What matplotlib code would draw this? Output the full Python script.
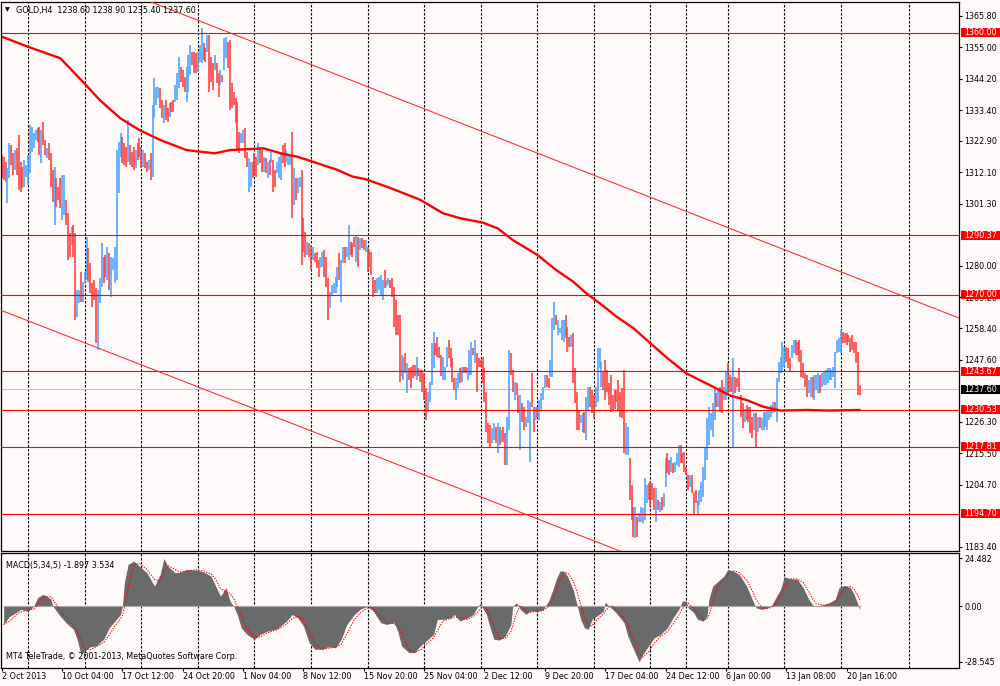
import numpy as np
import matplotlib.pyplot as plt
from matplotlib.patches import Rectangle
from matplotlib.transforms import blended_transform_factory

plt.rcParams['font.family'] = ['DejaVu Sans']

# GOLD H4 bars, 2 Oct 2013 .. 21 Jan 2014 (one value per bar)
bar_high = [
    # 2 Oct - 9 Oct
    1318.0, 1317.5, 1315.7, 1313.4, 1322.0, 1321.5, 1318.6, 1319.8, 1320.3, 1324.9,
    1315.7, 1314.0, 1316.3, 1314.6, 1318.0, 1328.3, 1327.8, 1325.5, 1326.6, 1327.2,
    1327.8, 1326.6, 1329.5, 1323.2, 1320.3, 1322.0, 1318.6, 1312.9, 1314.0, 1310.0,
    1307.1, 1310.0, 1311.2, 1311.2, 1302.6, 1298.0, 1291.1, 1293.4, 1294.0, 1291.1,
    1271.6, 1271.6, 1277.9, 1274.5, 1277.9, 1290.0, 1286.0, 1280.8, 1273.9, 1275.1,
    1272.2, 1271.6, 1275.6, 1287.7, 1283.1, 1283.7, 1286.5, 1284.2, 1283.1, 1282.5,
    1286.5, 1319.8, 1322.6,
    # 17 Oct - 29 Oct
    1325.5, 1324.3, 1322.0, 1320.9, 1330.1, 1321.5, 1319.2, 1320.9, 1319.8, 1322.0,
    1323.8, 1320.9, 1319.8, 1318.6, 1315.7, 1316.3, 1318.6, 1335.2, 1344.4, 1341.5,
    1341.5, 1340.9, 1336.9, 1335.2, 1336.9, 1334.1, 1335.8, 1336.4, 1336.9, 1342.1,
    1346.1, 1351.8, 1348.4, 1347.2, 1344.9, 1348.4, 1352.4, 1355.8, 1353.5, 1353.5,
    1353.0, 1353.5, 1355.8, 1361.6, 1356.4, 1354.7, 1359.3, 1359.3, 1351.8, 1349.5,
    1352.4, 1349.5, 1346.1, 1347.2, 1345.5, 1358.1, 1358.7, 1357.0, 1357.6, 1342.7,
    1339.8, 1337.5, 1336.4, 1326.1, 1325.5, 1326.6,
    # 30 Oct - 12 Nov
    1327.2, 1319.2, 1316.9, 1315.7, 1315.7, 1318.6, 1317.5, 1322.1, 1320.9, 1319.8,
    1317.5, 1316.9, 1315.7, 1316.3, 1319.2, 1316.3, 1312.9, 1315.7, 1317.5, 1318.6,
    1321.5, 1322.1, 1319.8, 1318.0, 1318.0, 1326.0, 1313.4, 1310.0, 1310.0, 1310.6,
    1312.9, 1296.3, 1291.7, 1288.2, 1287.7, 1287.1, 1286.5, 1284.2, 1284.8, 1281.9,
    1283.1, 1284.8, 1285.4, 1283.1, 1275.7, 1271.1, 1273.4, 1273.9, 1276.2, 1279.7,
    1284.2, 1281.9, 1286.5, 1286.5, 1286.5, 1294.0, 1288.2, 1287.7, 1290.0, 1290.5,
    1290.0, 1289.4,
    # 18 Nov - 2 Dec
    1289.4, 1288.8, 1288.8, 1286.5, 1285.4, 1284.8, 1276.2, 1275.1, 1275.7, 1276.2,
    1276.8, 1275.1, 1278.5, 1275.1, 1275.7, 1275.1, 1275.7, 1272.8, 1268.2, 1263.0,
    1263.0, 1249.3, 1248.7, 1249.9, 1246.4, 1244.7, 1245.3, 1245.9, 1245.9, 1248.7,
    1244.7, 1244.1, 1244.1, 1243.0, 1237.8, 1236.7, 1240.1, 1253.3, 1257.3, 1253.3,
    1255.6, 1252.2, 1249.3, 1248.7, 1245.3, 1252.2, 1254.4, 1251.6, 1248.2, 1241.3,
    1241.3, 1243.0, 1244.7, 1245.3, 1245.3, 1245.3, 1244.7, 1251.0, 1253.9, 1251.6,
    1254.4, 1249.9, 1248.2, 1247.6,
    # 2 Dec - 16 Dec
    1248.7, 1244.7, 1236.7, 1225.8, 1225.2, 1224.1, 1225.8, 1224.7, 1225.8, 1224.7,
    1223.5, 1224.7, 1222.4, 1228.1, 1251.0, 1249.9, 1244.1, 1240.1, 1239.6, 1235.5,
    1235.5, 1232.7, 1231.5, 1228.1, 1233.8, 1233.2, 1243.0, 1231.5, 1231.5, 1231.5,
    1233.8, 1236.1, 1238.4, 1242.4, 1242.4, 1241.3, 1247.6, 1261.9, 1267.6, 1263.0,
    1261.3, 1258.4, 1261.3, 1261.3, 1263.0, 1259.0, 1255.6, 1256.2, 1256.7, 1244.7,
    1236.7, 1230.4, 1228.7, 1229.2, 1229.8, 1234.9, 1238.4, 1238.4, 1237.3, 1235.5,
    1238.4, 1251.6, 1251.6,
    # 16 Dec - 6 Jan
    1247.0, 1243.6, 1247.6, 1244.1, 1239.6, 1242.4, 1235.5, 1237.3, 1237.3, 1240.7,
    1236.7, 1237.8, 1244.1, 1225.8, 1224.7, 1214.0, 1204.6, 1197.2, 1197.2, 1193.7,
    1194.9, 1197.2, 1196.6, 1206.9, 1204.6, 1205.2, 1205.8, 1205.2, 1203.5, 1203.5,
    1199.5, 1198.9, 1200.6, 1201.8, 1213.8, 1215.5, 1213.2, 1214.4, 1212.1, 1212.6,
    1215.5, 1218.4, 1218.4, 1215.5, 1216.1, 1210.9, 1208.1, 1208.1, 1208.1, 1202.3,
    1202.9, 1199.5, 1202.9, 1205.8, 1210.9, 1217.8, 1227.5, 1231.5, 1229.2, 1232.7,
    1238.4, 1236.1, 1237.3, 1238.4, 1240.7, 1238.4, 1243.6,
    # 6 Jan - 21 Jan
    1246.4, 1242.4, 1241.8, 1248.1, 1241.8, 1241.3, 1244.7, 1235.5, 1232.7, 1230.9,
    1232.1, 1231.5, 1231.5, 1228.1, 1229.2, 1229.2, 1228.1, 1228.1, 1227.5, 1229.8,
    1229.8, 1230.4, 1230.4, 1232.1, 1233.2, 1233.2, 1241.3, 1247.0, 1248.7, 1253.9,
    1252.2, 1252.2, 1251.6, 1248.1, 1252.7, 1254.4, 1254.4, 1253.9, 1254.4, 1251.0,
    1246.4, 1243.0, 1242.4, 1240.7, 1241.8, 1241.8, 1242.4, 1242.4, 1243.0, 1242.4,
    1243.0, 1243.6, 1244.1, 1244.7, 1244.7, 1244.1, 1245.3, 1250.4, 1254.4, 1255.0,
    1258.0, 1257.3, 1256.7, 1256.7, 1256.2, 1255.0, 1256.2, 1253.9, 1253.9, 1250.4,
    1238.9,
]

bar_low = [
    1310.0, 1309.4, 1308.9, 1301.4, 1310.0, 1314.6, 1311.2, 1312.9, 1311.2, 1306.0,
    1305.4, 1306.6, 1307.1, 1310.6, 1307.7, 1311.7, 1319.2, 1320.3, 1323.2, 1322.6,
    1318.0, 1315.2, 1321.5, 1318.0, 1316.9, 1316.3, 1307.1, 1302.0, 1294.0, 1300.3,
    1302.6, 1299.7, 1295.7, 1297.4, 1294.0, 1281.9, 1283.1, 1287.1, 1283.1, 1261.3,
    1262.5, 1267.0, 1267.6, 1267.6, 1273.9, 1275.1, 1274.5, 1270.5, 1265.9, 1268.2,
    1253.3, 1251.0, 1267.0, 1272.8, 1273.9, 1276.2, 1275.1, 1271.6, 1269.3, 1278.5,
    1273.9, 1275.1, 1304.9,
    1317.5, 1315.2, 1314.6, 1314.0, 1315.7, 1314.6, 1314.0, 1312.9, 1313.4, 1316.3,
    1317.5, 1313.4, 1314.0, 1313.4, 1312.3, 1312.9, 1309.4, 1310.6, 1330.6, 1335.2,
    1337.5, 1334.1, 1330.6, 1328.9, 1330.1, 1329.5, 1331.2, 1332.9, 1332.9, 1336.4,
    1336.9, 1340.9, 1343.2, 1341.5, 1339.8, 1336.4, 1339.8, 1345.5, 1349.0, 1346.1,
    1346.1, 1346.7, 1350.1, 1349.5, 1350.7, 1350.1, 1353.5, 1339.8, 1343.2, 1340.4,
    1347.2, 1342.7, 1338.1, 1342.1, 1343.2, 1347.2, 1351.3, 1347.8, 1333.5, 1334.1,
    1335.2, 1328.9, 1319.8, 1318.6, 1322.0, 1322.0,
    1316.9, 1314.0, 1305.4, 1307.1, 1310.0, 1311.2, 1310.6, 1314.6, 1315.2, 1312.3,
    1312.3, 1311.7, 1310.0, 1311.2, 1315.2, 1305.4, 1307.1, 1311.7, 1310.0, 1309.4,
    1315.2, 1314.0, 1315.7, 1314.6, 1314.6, 1296.3, 1300.9, 1302.6, 1304.9, 1307.1,
    1280.2, 1284.8, 1283.1, 1283.7, 1283.1, 1278.5, 1281.9, 1281.4, 1279.1, 1276.2,
    1279.1, 1279.7, 1276.2, 1272.8, 1261.3, 1265.3, 1269.9, 1270.5, 1270.5, 1272.8,
    1275.1, 1267.6, 1280.8, 1280.8, 1283.1, 1281.9, 1283.7, 1283.1, 1286.5, 1281.4,
    1279.7, 1285.4,
    1285.9, 1285.4, 1284.8, 1277.9, 1279.7, 1276.8, 1269.3, 1270.5, 1270.5, 1271.6,
    1269.9, 1268.2, 1272.2, 1272.8, 1273.4, 1272.2, 1269.3, 1259.0, 1256.2, 1256.2,
    1240.1, 1241.9, 1240.7, 1243.0, 1236.1, 1240.7, 1237.8, 1241.3, 1241.9, 1240.7,
    1241.9, 1240.1, 1236.7, 1233.8, 1226.9, 1229.8, 1233.2, 1239.0, 1244.7, 1249.3,
    1248.7, 1248.2, 1241.9, 1240.7, 1240.7, 1245.3, 1248.2, 1245.3, 1240.1, 1237.3,
    1233.8, 1237.8, 1239.6, 1240.1, 1243.0, 1243.0, 1240.7, 1242.4, 1242.4, 1249.3,
    1246.4, 1236.7, 1245.3, 1245.3,
    1239.6, 1233.2, 1222.9, 1218.9, 1217.2, 1218.9, 1220.1, 1218.9, 1215.5, 1218.4,
    1219.5, 1219.5, 1211.5, 1211.5, 1223.5, 1242.4, 1236.7, 1233.8, 1235.5, 1229.2,
    1216.6, 1226.4, 1223.5, 1224.7, 1225.8, 1212.6, 1231.5, 1222.9, 1226.9, 1227.5,
    1226.9, 1230.4, 1233.8, 1237.8, 1238.4, 1237.8, 1241.8, 1241.8, 1257.9, 1259.6,
    1256.2, 1256.7, 1254.4, 1253.9, 1255.0, 1250.4, 1252.1, 1252.1, 1239.6, 1232.7,
    1223.5, 1223.5, 1225.8, 1222.9, 1222.4, 1220.1, 1230.4, 1231.5, 1229.2, 1227.5,
    1231.5, 1233.2, 1244.7,
    1238.4, 1237.3, 1233.8, 1236.7, 1232.1, 1229.8, 1230.4, 1230.9, 1233.2, 1230.4,
    1228.1, 1227.5, 1215.5, 1214.9, 1214.9, 1199.5, 1192.6, 1186.9, 1186.3, 1186.9,
    1192.0, 1192.0, 1191.4, 1192.6, 1198.3, 1199.5, 1197.2, 1199.5, 1196.0, 1192.0,
    1196.0, 1195.4, 1196.0, 1197.2, 1204.0, 1208.6, 1208.1, 1209.2, 1208.6, 1209.2,
    1211.5, 1210.9, 1212.1, 1212.1, 1209.2, 1208.1, 1202.9, 1204.0, 1201.8, 1194.3,
    1198.3, 1194.3, 1197.7, 1198.9, 1200.6, 1206.3, 1213.2, 1218.4, 1223.5, 1221.2,
    1226.9, 1231.5, 1231.5, 1229.8, 1229.2, 1233.8, 1233.8,
    1235.5, 1236.7, 1236.7, 1217.8, 1236.1, 1238.4, 1236.7, 1228.1, 1224.1, 1226.4,
    1226.9, 1226.4, 1222.4, 1220.6, 1223.5, 1217.8, 1222.9, 1224.1, 1223.5, 1223.5,
    1224.7, 1223.5, 1226.9, 1228.1, 1229.2, 1229.8, 1226.4, 1240.1, 1243.0, 1243.6,
    1245.3, 1247.0, 1244.7, 1243.6, 1248.1, 1249.9, 1249.3, 1249.3, 1247.0, 1241.8,
    1241.3, 1238.4, 1235.0, 1236.1, 1235.0, 1234.4, 1233.8, 1237.3, 1236.1, 1236.1,
    1238.4, 1239.0, 1239.0, 1239.6, 1240.7, 1240.7, 1241.8, 1237.8, 1249.9, 1250.4,
    1249.9, 1253.3, 1253.3, 1252.7, 1253.9, 1250.4, 1251.0, 1249.9, 1246.4, 1235.5,
    1235.4,
]

# B = bull bar, R = bear bar
bar_dir = (
    "RRRBBRRBRR" "RRBBBBBBBR" "RBRRBRRRBR" "RRBBRRRBRR" "BBRBBBRRRR" "RBBBRRBRBB" "BBB"
    "BRRRBRRRBR" "RRBRRBRBBB" "BRRBRRBRRB" "BBRRRBBBRR" "RBBBRRBRRR" "BRRBRBBRRR" "RRRRBB"
    "RRBBRRRBRR" "BRBRBRRBBB" "RRBBBRBRBB" "RRRBRRBRRR" "BBRRRBBBBB" "RBBRBBRRRB" "RB"
    "RRBRRRRRBB" "BBRBBRRRRR" "RBBRBRRRRB" "RRRRRBBBBR" "RRRBBBRRRR" "BBRBRRBBBR" "BRRR"
    "RRRRRBBRBR" "BRRBBRRBRR" "BRRBBBRRBR" "BBBBRRBBBR" "BBBBRRRBRR" "RRBBRBBRRR" "BBB"
    "BRRRRRRRRR" "RRRBBRRRBR" "BBBBBRRRRB" "RBRBBRRBRB" "BBRRRRRBRR" "RBBBBBBBBB" "BRBRRBB"
    "RRRBRRRRRB" "RRRRBRBRBB" "BBBBBRBBBB" "BRRRBBRRRR" "RRRBBRBBBR" "BBBBBBBBBB" "BRRRRRRRRR"
    "R"
)

# moving average (bar number, price)
ma_bar = [0, 14, 31, 43, 52, 63, 73, 84, 98, 113, 121, 129, 139, 148, 157, 165, 178, 186,
          193, 206, 222, 234, 243, 255, 263, 271, 284, 294, 303, 310, 319, 326, 335, 344,
          353, 363, 370, 379, 386, 395, 404, 413, 427, 439, 455]
ma_price = [1358.7, 1355.2, 1351.3, 1343.2, 1336.9, 1330.6, 1326.6, 1323.2, 1319.7, 1318.6,
            1319.7, 1320.0, 1320.3, 1318.6, 1317.4, 1315.7, 1312.9, 1310.6, 1309.7, 1306.7,
            1302.6, 1298.0, 1296.3, 1294.8, 1292.8, 1288.8, 1283.7, 1278.5, 1274.5, 1270.5,
            1266.1, 1262.5, 1258.5, 1253.3, 1248.2, 1243.0, 1240.7, 1237.8, 1235.4, 1233.8,
            1231.5, 1230.2, 1230.4, 1230.2, 1230.4]

# MACD(5,34,5) main line (bar number, value)
macd_bar = [1, 4, 8, 10, 14, 17, 19, 22, 26, 27, 31, 34, 38, 40, 42, 44, 47, 50, 54, 57,
            60, 63, 64, 65, 67, 70, 73, 77, 81, 84, 86, 88, 92, 95, 98, 103, 107, 111, 113, 116,
            119, 121, 123, 125, 127, 130, 134, 137, 141, 146, 151, 154, 157, 160, 163, 166, 170,
            173, 177, 180, 183, 187, 190, 194, 197, 201, 204, 208, 210, 212, 216, 219, 222, 225,
            229, 231, 234, 238, 240, 243, 247, 250, 252, 254,
            255, 257, 259, 261, 264, 267, 270, 271, 273, 275, 278, 280, 284, 287, 290, 292, 294,
            296, 298, 300, 303, 305, 307, 309, 311, 313, 316, 319, 320, 322, 324, 326, 330, 332,
            335, 338, 340, 343, 346, 349, 353, 356, 359, 361, 363, 364, 367, 369, 372, 374, 375,
            377, 380, 383, 385, 388, 391, 395, 398, 400, 403, 406, 408, 410, 413, 415, 418, 422,
            425, 428, 430, 432, 436, 439, 442, 444, 447, 450, 452, 454, 455]
macd_val = [-9.4, -5.4, -3.1, -1.7, -2.6, 0.0, 4.3, 6.0, 3.7, 0.0,
            -5.1, -8.5, -11.9, -17.0, -24.7, -23.0, -20.8, -20.4, -17.0, -11.1,
            -7.7, -4.3, 0.0, 11.9, 21.3, 23.0, 20.4, 17.0, 10.2, 16.2,
            24.4, 20.4, 17.0, 17.4, 18.7, 18.4, 17.5, 15.3, 11.1, 5.1,
            9.4, 2.6, 0.0, -4.8, -11.1, -14.5, -17.0, -14.5, -12.8, -11.6,
            -7.7, -4.3, -6.0, -10.2, -18.7, -22.1, -22.1, -20.8, -21.3, -17.0,
            -9.4, -4.3, -1.7, 0.0, -2.6, -8.5, -9.4, -8.5, -12.8, -20.4,
            -23.8, -23.8, -20.4, -17.9, -14.5, -6.8, -6.8, -6.0, -4.3, -7.7,
            -6.0, -4.3, -0.9, 1.7,
            -0.9, -4.3, -11.1, -17.0, -17.4, -15.3, -9.4, 0.0, 1.7, -1.7,
            -4.3, -2.6, -2.6, -2.0, 2.6, 7.7, 13.6, 17.9, 17.9, 15.3,
            8.5, 0.9, -6.8, -11.1, -11.9, -6.8, -4.8, -2.6, 2.0, 0.0,
            -1.7, -3.7, -8.5, -15.3, -22.1, -28.5, -24.7, -20.4, -16.2, -14.8,
            -11.1, -6.0, -1.7, 2.6, 2.6, -0.9, -3.4, -6.8, -7.7, -5.1,
            3.4, 10.2, 12.8, 15.3, 18.7, 17.9, 16.2, 10.2, 3.4, -0.9,
            -1.7, -0.9, 0.0, 3.4, 8.5, 15.0, 14.0, 13.6, 9.4, 3.4,
            0.5, 0.0, 0.7, 1.7, 3.4, 9.4, 10.6, 9.4, 6.0, 0.9,
            -1.9]

levels = [1360.00, 1290.37, 1270.00, 1243.67, 1230.53, 1217.81, 1194.70]
last_price = 1237.60

# channel anchors: (bar, price)
upper_channel = [(80, 1370.4), (508, 1261.9)]
lower_channel = [(-1, 1264.8), (324, 1182.9)]

# scale labels that are not hidden behind the level boxes
price_ticks = [1365.80, 1355.00, 1344.20, 1333.40, 1322.90, 1312.10, 1301.30,
               1280.00, 1269.20, 1258.40, 1247.60, 1226.30, 1215.50, 1204.70, 1183.40]
macd_ticks = [24.482, 0.0, -28.545]
macd_tick_labels = ['24.482', '0.00', '-28.545']

time_labels = ['2 Oct 2013', '10 Oct 04:00', '17 Oct 12:00', '24 Oct 20:00', '1 Nov 04:00',
               '8 Nov 12:00', '15 Nov 20:00', '25 Nov 04:00', '2 Dec 12:00', '9 Dec 20:00',
               '17 Dec 04:00', '24 Dec 12:00', '6 Jan 00:00', '13 Jan 08:00', '20 Jan 16:00']
label_bars = [0, 32, 64, 96, 128, 160, 192, 224, 256, 288, 320, 352, 384, 416, 448]
week_bars = [14, 44, 74, 104, 134, 164, 194, 224, 254, 284, 314, 344, 363, 385, 415, 445, 481]

BG = '#fffafa'
UP = '#4aa2ff'
DOWN = '#ff3a3a'
FS = 5.8

fig = plt.figure(figsize=(10, 6.86), dpi=100, facecolor=BG)
ax = fig.add_axes([0.001, 0.1968, 0.9583, 0.8003], facecolor=BG)
mx = fig.add_axes([0.001, 0.0262, 0.9583, 0.1676], facecolor=BG)

n = len(bar_high)
idx = np.arange(n)
cols = [UP if d == 'B' else DOWN for d in bar_dir]

for a in (ax, mx):
    a.set_xlim(-0.4, 507.8)
    for b in week_bars:
        a.axvline(b, color='black', lw=0.8, ls=(0, (2.2, 1.4)), zorder=0.5)
    for s in a.spines.values():
        s.set_linewidth(0.9)
        s.set_color('black')

# ---- price panel ----
ax.set_ylim(1181.93, 1370.61)
ax.vlines(idx, bar_low, bar_high, colors=cols, linewidth=1.15, zorder=2)
ax.plot(ma_bar, ma_price, color='#ff0000', lw=1.7, zorder=2.5, solid_capstyle='round',
        solid_joinstyle='round')

for p in levels:
    ax.axhline(p, color='#ff0000', lw=0.8, zorder=3)
ax.axhline(last_price, color='#c4c4c4', lw=0.8, zorder=1.5)

ax.axline(upper_channel[0], upper_channel[1], color='#ff3030', lw=0.8, zorder=3)
ax.axline(lower_channel[0], lower_channel[1], color='#ff3030', lw=0.8, zorder=3)

ax.set_xticks([])
ax.yaxis.tick_right()
ax.set_yticks(price_ticks, [f'{t:.2f}' for t in price_ticks])
ax.tick_params(axis='y', direction='out', length=2.2, width=0.8, pad=1.5, labelsize=FS)

tr = blended_transform_factory(ax.transAxes, ax.transData)
box_h = 3.1
for p, fc in [(p, '#ff0000') for p in levels] + [(last_price, '#000000')]:
    ax.add_patch(Rectangle((1.0018, p - box_h / 2), 0.0407, box_h, transform=tr,
                           facecolor=fc, edgecolor='none', clip_on=False, zorder=5))
    ax.text(1.0222, p, f'{p:.2f}', transform=tr, ha='center', va='center',
            fontsize=FS, color='white', zorder=6, clip_on=False)

fig.text(0.0075, 1 - 10 / 686, '\u25bc', fontsize=4.5, va='center', ha='center')
fig.text(0.0165, 1 - 10 / 686, 'GOLD,H4  1238.60 1238.90 1235.40 1237.60',
         fontsize=FS, va='center', ha='left')

# ---- MACD panel ----
mb = np.array(macd_bar, dtype=float)
mv = np.array(macd_val)
signal = np.mean([np.interp(mb - k, mb, mv) for k in range(5)], axis=0)

mx.set_ylim(-31.7, 27.1)
mx.fill_between(mb, 0, mv, color='#6a6a6a', linewidth=0, zorder=2)
mx.plot([mb[0], mb[-1]], [0, 0], color='#a8a8a8', lw=0.8, zorder=2.2)
mx.plot(mb, signal, color='#ff0000', lw=0.8, ls=(0, (1.2, 1.2)), zorder=3)

mx.yaxis.tick_right()
mx.set_yticks(macd_ticks, macd_tick_labels)
mx.tick_params(axis='y', direction='out', length=2.2, width=0.8, pad=1.5, labelsize=FS)
mx.set_xticks(label_bars, time_labels)
mx.tick_params(axis='x', direction='out', length=2.0, width=0.8, pad=1.0, labelsize=FS)
for lbl in mx.get_xticklabels():
    lbl.set_horizontalalignment('left')

mx.text(0.005, 0.93, 'MACD(5,34,5) -1.897 3.534', transform=mx.transAxes,
        fontsize=FS, va='top', ha='left', zorder=6)
mx.text(0.005, 0.06, 'MT4 TeleTrade, \u00a9 2001-2013, MetaQuotes Software Corp.',
        transform=mx.transAxes, fontsize=FS, va='bottom', ha='left', zorder=6)

fig.savefig('out.png', dpi=100, facecolor=BG)
